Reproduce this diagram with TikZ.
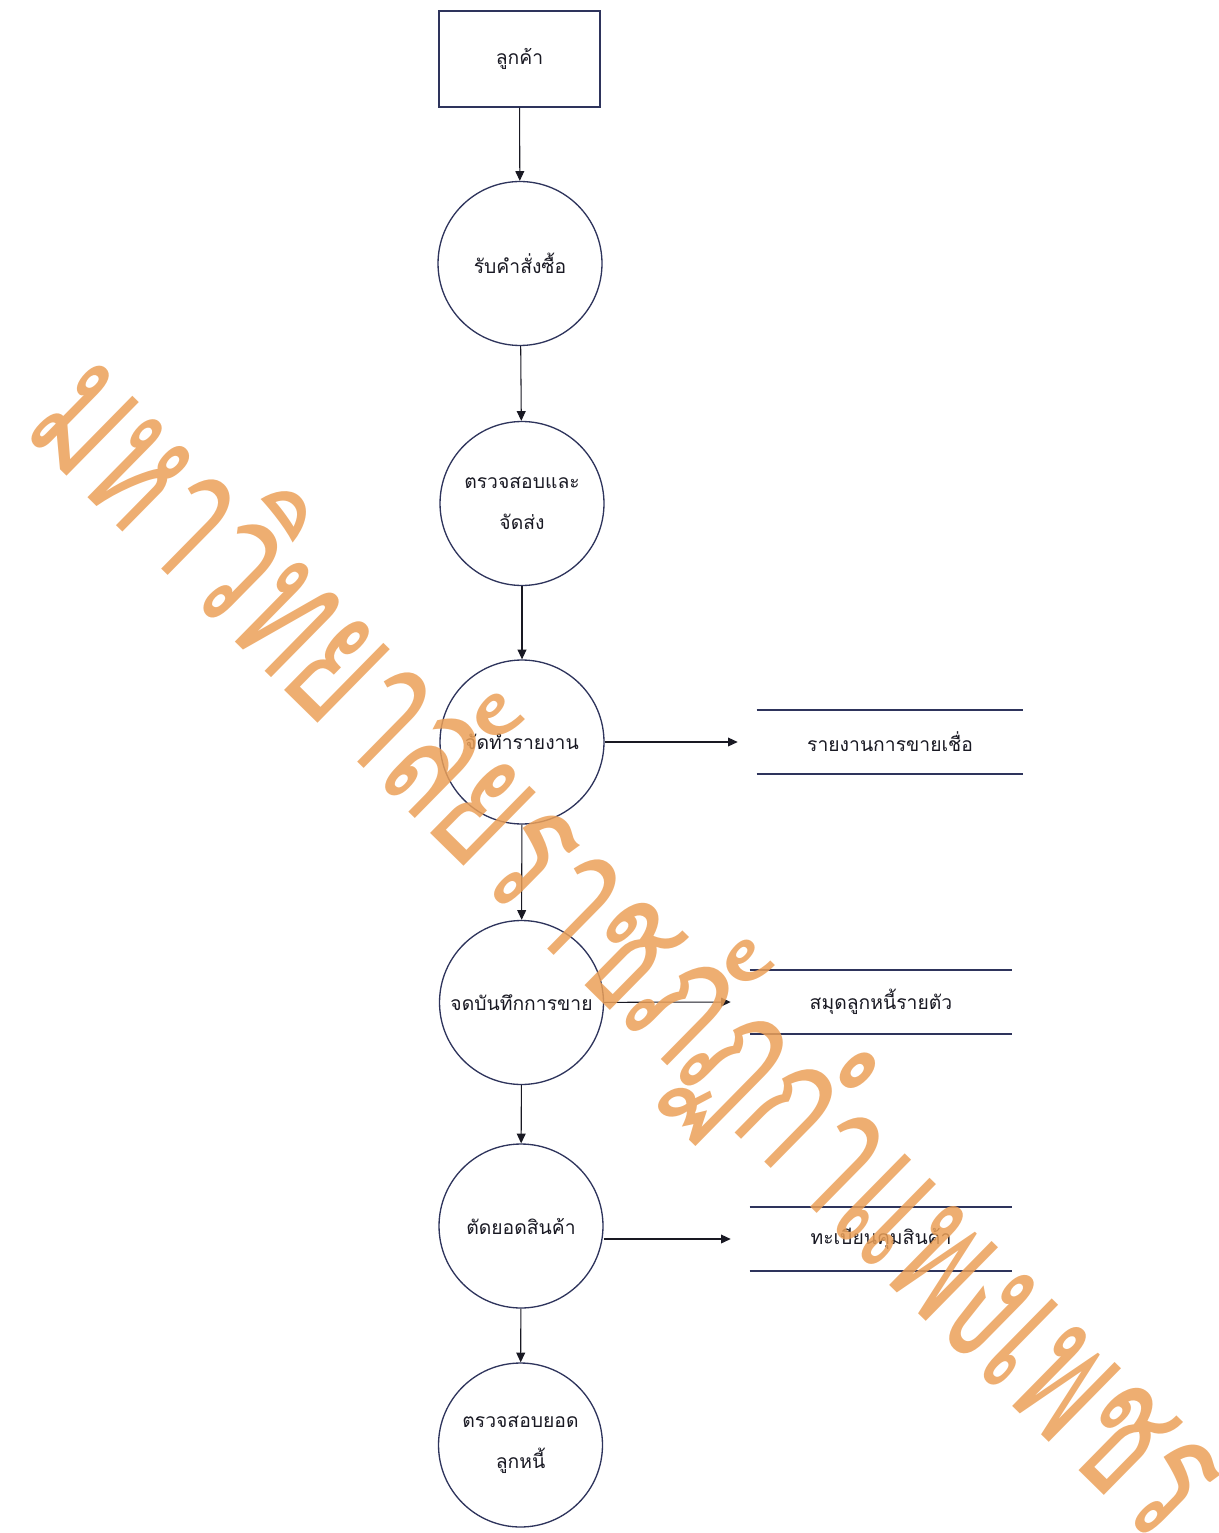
\documentclass[tikz,border=0pt]{standalone}
\usepackage{fontspec}
\setmainfont[Script=Thai]{Loma}
\usetikzlibrary{arrows.meta}
\definecolor{navy}{RGB}{46,52,92}
\definecolor{ink}{RGB}{25,25,35}
\definecolor{wmark}{RGB}{235,160,88}

\begin{document}
\begin{tikzpicture}[x=0.02cm,y=-0.02cm,
   >={Triangle[length=5.5pt,width=5pt]},
   flow/.style={->,draw=ink,line width=0.6pt},
   proc/.style={circle,draw=navy,line width=0.75pt,minimum size=3.28cm,inner sep=0pt,
                align=center,text=ink,font=\fontsize{11}{23}\selectfont},
   ent/.style={rectangle,draw=navy,line width=0.8pt,minimum width=3.22cm,minimum height=1.92cm,
                text=ink,font=\fontsize{11}{23}\selectfont},
   store/.style={minimum height=1.28cm,inner sep=0pt,text=ink,font=\fontsize{11}{23}\selectfont},
   sline/.style={draw=navy,line width=1.1pt}]
   \useasboundingbox (0,0) rectangle (1218,1533);

   \node[ent] (a) at (519.5,59) {ลูกค้า};

   \node[proc] (b) at (520,263.5)  {รับคำสั่งซื้อ};
   \node[proc] (c) at (522,503.5)  {ตรวจสอบและ\\จัดส่ง};
   \node[proc] (d) at (522,742)    {จัดทำรายงาน};
   \node[proc] (e) at (521.5,1002.5) {จดบันทึกการขาย};
   \node[proc] (f) at (521,1226)   {ตัดยอดสินค้า};
   \node[proc] (g) at (520.5,1445) {ตรวจสอบยอด\\ลูกหนี้};

   \node[store,minimum width=5.32cm] (s1) at (890,742)  {รายงานการขายเชื่อ};
   \node[store,minimum width=5.24cm] (s2) at (881,1002) {สมุดลูกหนี้รายตัว};
   \node[store,minimum width=5.24cm] (s3) at (881,1239) {ทะเบียนคุมสินค้า};

   \draw[sline] (s1.north west) -- (s1.north east);
   \draw[sline] (s1.south west) -- (s1.south east);
   \draw[sline] (s2.north west) -- (s2.north east);
   \draw[sline] (s2.south west) -- (s2.south east);
   \draw[sline] (s3.north west) -- (s3.north east);
   \draw[sline] (s3.south west) -- (s3.south east);

   \draw[flow] (a) -- (b);
   \draw[flow] (b) -- (c);
   \draw[flow] (c) -- (d);
   \draw[flow] (d) -- (e);
   \draw[flow] (e) -- (f);
   \draw[flow] (f) -- (g);

   \draw[flow,shorten >=0.38cm] (d) -- (s1.west);
   \draw[flow,shorten >=0.38cm] (e) -- (s2.west);
   \draw[flow,shorten >=0.38cm] (f.east |- s3.west) -- (s3.west);

   % watermark
   \node[rotate=-44.5,xscale=.75,yscale=1.2,text=wmark,opacity=.85,font=\fontsize{88}{88}\selectfont] (wm)
      at (628,948) {มหาวิทยาลัยราชภัฏกำแพงเพชร};
\end{tikzpicture}
\end{document}
